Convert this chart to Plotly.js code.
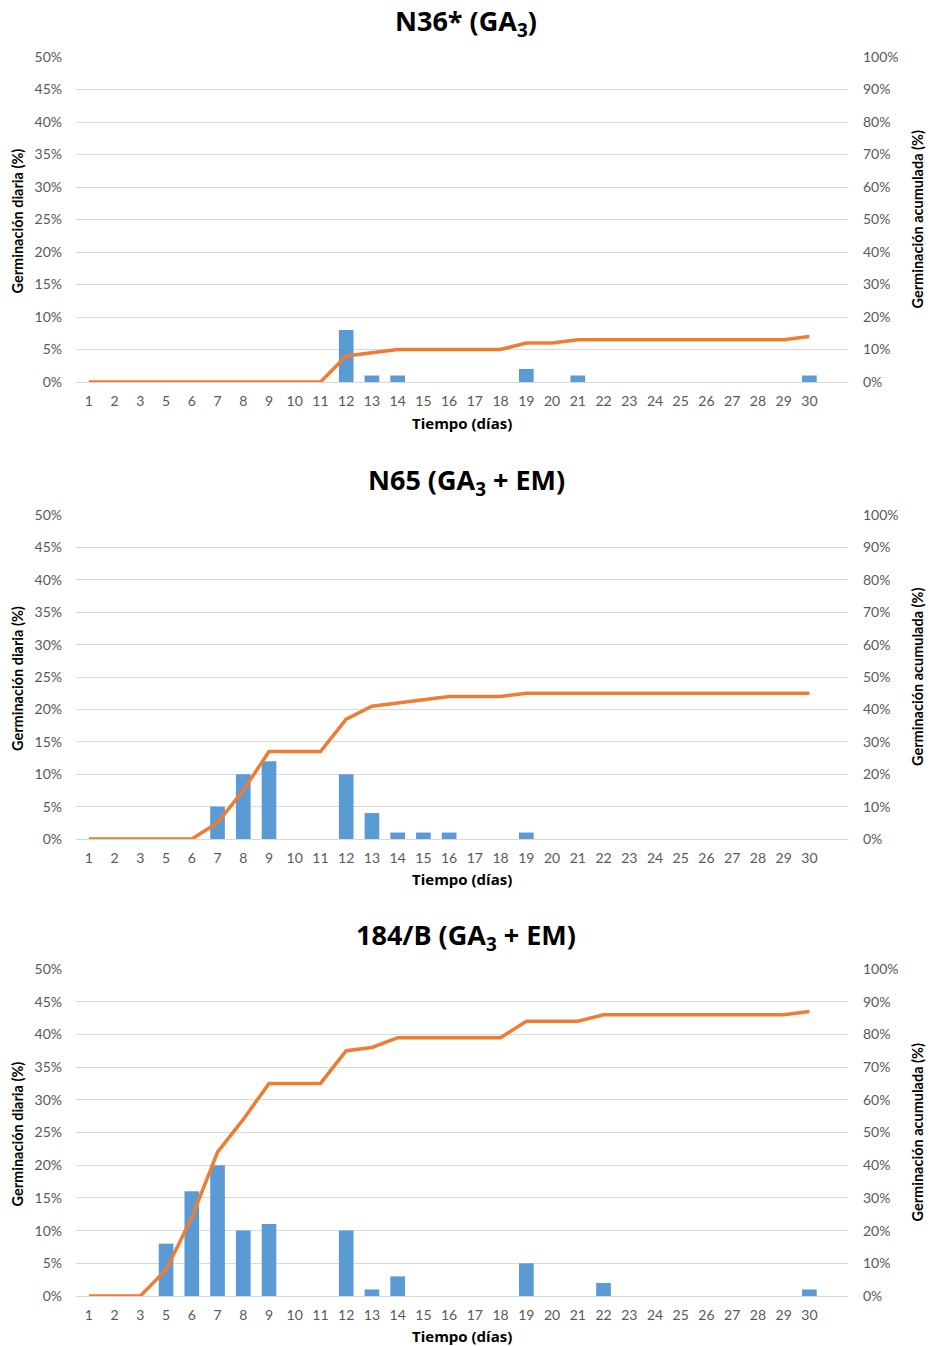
<!DOCTYPE html>
<html>
<head>
<meta charset="utf-8">
<script src="https://cdn.plot.ly/plotly-3.0.1.min.js"></script>
<style>html,body{margin:0;padding:0;background:#fff;}#chart{width:930px;height:1346px;}</style>
</head>
<body>
<div id="chart"></div>
<script>
// Day categories (day 4 not recorded)
const days = ['1','2','3','5','6','7','8','9','10','11','12','13','14','15','16','17','18','19','20','21','22','23','24','25','26','27','28','29','30'];

// N36* (GA3)
const n36Daily = [0,0,0,0,0,0,0,0,0,0, 8,1,1,0,0,0,0,2,0,1, 0,0,0,0,0,0,0,0,1];
const n36Cum   = [0,0,0,0,0,0,0,0,0,0, 8,9,10,10,10,10,10,12,12,13, 13,13,13,13,13,13,13,13,14];

// N65 (GA3 + EM)
const n65Daily = [0,0,0,0,0,5,10,12,0,0, 10,4,1,1,1,0,0,1,0,0, 0,0,0,0,0,0,0,0,0];
const n65Cum   = [0,0,0,0,0,5,15,27,27,27, 37,41,42,43,44,44,44,45,45,45, 45,45,45,45,45,45,45,45,45];

// 184/B (GA3 + EM)
const b184Daily = [0,0,0,8,16,20,10,11,0,0, 10,1,3,0,0,0,0,5,0,0, 2,0,0,0,0,0,0,0,1];
const b184Cum   = [0,0,0,8,24,44,54,65,65,65, 75,76,79,79,79,79,79,84,84,84, 86,86,86,86,86,86,86,86,87];

const titles = ['N36* (GA<sub>3</sub>)', 'N65 (GA<sub>3</sub> + EM)', '184/B (GA<sub>3</sub> + EM)'];
const xTitle = 'Tiempo (días)';
const yLeftTitle = 'Germinación diaria (%)';
const yRightTitle = 'Germinación acumulada (%)';

const BAR = '#5b9bd5', LINE = '#ed7d31', GRID = '#d9d9d9', TICK = '#595959';
const H = 1346, W = 930;
const py = px => 1 - px / H;

// plot boxes in pixels (top of 50% gridline, 0% baseline)
const boxes = [[57, 382], [515, 839], [969, 1296]];
const xDom = [76 / W, 848 / W];

const dailySets = [n36Daily, n65Daily, b184Daily];
const cumSets = [n36Cum, n65Cum, b184Cum];

const tickFont = {family: 'Lato, sans-serif', size: 14, color: TICK};
const traces = [];
const layout = {
  width: W, height: H,
  margin: {l: 0, r: 0, t: 0, b: 0},
  paper_bgcolor: '#fff', plot_bgcolor: 'rgba(0,0,0,0)',
  showlegend: false,
  bargap: 0.43,
  annotations: []
};

for (let i = 0; i < 3; i++) {
  const n = i + 1, r = i + 4;
  const xa = 'x' + (n === 1 ? '' : n), ya = 'y' + (n === 1 ? '' : n), yr = 'y' + r;
  traces.push({type: 'bar', x: days, y: dailySets[i], xaxis: xa, yaxis: ya, marker: {color: BAR}, hoverinfo: 'x+y'});
  traces.push({type: 'scatter', mode: 'lines', x: days, y: cumSets[i], xaxis: xa, yaxis: yr, line: {color: LINE, width: 3.5}, hoverinfo: 'x+y'});
  const [top, bot] = boxes[i];
  layout['xaxis' + (n === 1 ? '' : n)] = {
    domain: xDom, anchor: ya, type: 'category', range: [-0.5, 29.5],
    showgrid: false, zeroline: false, showline: false, ticks: '',
    tickfont: tickFont, ticklabelstandoff: 9, tickangle: 0, fixedrange: true
  };
  layout['yaxis' + (n === 1 ? '' : n)] = {
    domain: [py(bot), py(top)], anchor: xa, range: [0, 50], dtick: 5, ticksuffix: '%',
    showgrid: true, gridcolor: GRID, gridwidth: 1, zeroline: true, zerolinecolor: GRID, zerolinewidth: 1,
    showline: false, ticks: '', tickfont: tickFont, ticklabelstandoff: 13, fixedrange: true
  };
  layout['yaxis' + r] = {
    overlaying: ya, side: 'right', anchor: xa, range: [0, 100], dtick: 10, ticksuffix: '%',
    showgrid: false, zeroline: false, showline: false, ticks: '', tickfont: tickFont, ticklabelstandoff: 14, fixedrange: true
  };
  const mid = (top + bot) / 2;
  layout.annotations.push(
    {text: titles[i], xref: 'paper', yref: 'paper', x: 466 / W, y: py([22, 481, 936][i]), xanchor: 'center', yanchor: 'middle', showarrow: false,
     font: {family: 'Open Sans, sans-serif', size: 27, color: '#000', weight: 'bold'}},
    {text: '<b>' + xTitle + '</b>', xref: 'paper', yref: 'paper', x: 462 / W, y: py([423, 879, 1336][i]), xanchor: 'center', yanchor: 'middle', showarrow: false,
     font: {family: 'Open Sans, sans-serif', size: 15, color: '#000'}},
    {text: '<b>' + yLeftTitle + '</b>', xref: 'paper', yref: 'paper', x: 17 / W, y: py(mid + 2), xanchor: 'center', yanchor: 'middle', textangle: -90, showarrow: false,
     font: {family: 'Lato, sans-serif', size: 14.5, color: '#000'}},
    {text: '<b>' + yRightTitle + '</b>', xref: 'paper', yref: 'paper', x: 917 / W, y: py(mid), xanchor: 'center', yanchor: 'middle', textangle: -90, showarrow: false,
     font: {family: 'Lato, sans-serif', size: 14.5, color: '#000'}}
  );
}

Plotly.newPlot('chart', traces, layout, {displayModeBar: false, staticPlot: true});
</script>
</body>
</html>
